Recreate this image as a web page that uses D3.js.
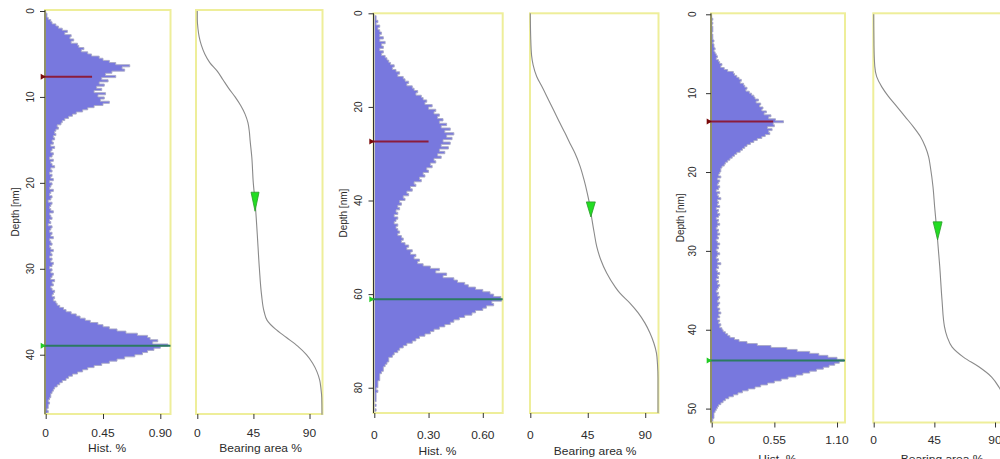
<!DOCTYPE html>
<html><head><meta charset="utf-8">
<script src="https://cdn.jsdelivr.net/npm/d3@7"></script>
<style>body{margin:0;background:#fff;} svg{display:block;font-family:"Liberation Sans",Arial,sans-serif;}</style>
</head><body><svg id="c" width="1000" height="459"></svg>
<script>
// ---------------- DATA ----------------
// Histogram 1 (bin width 0.25 nm, depth 0..47 nm), values in %
const hist1Bin = 0.25;
const hist1 = [
0.00,0.01,0.01,0.02, 0.04,0.05,0.08,0.10, 0.13,0.17,0.15,0.20, 0.19,0.22,0.20,0.25,
0.26,0.30,0.28,0.33, 0.36,0.42,0.45,0.50, 0.55,0.66,0.60,0.62, 0.52,0.47,0.55,0.44,
0.49,0.42,0.46,0.40, 0.44,0.38,0.47,0.41, 0.46,0.43,0.50,0.45, 0.38,0.33,0.29,0.24,
0.21,0.18,0.15,0.13, 0.12,0.09,0.10,0.08, 0.07,0.08,0.06,0.07,
0.05,0.06,0.04,0.07,0.05,0.04,0.06,0.05, 0.03,0.06,0.04,0.05,0.07,0.04,0.05,0.03,
0.05,0.04,0.06,0.03,0.05,0.04,0.03,0.06, 0.04,0.03,0.05,0.04,0.02,0.05,0.04,0.03,
0.04,0.06,0.03,0.04,0.05,0.03,0.04,0.02, 0.05,0.04,0.03,0.05,0.04,0.06,0.03,0.04,
0.05,0.03,0.04,0.06,0.04,0.05,0.03,0.05, 0.04,0.06,0.05,0.03,0.05,0.04,0.06,0.05,
0.04,0.07,0.05,0.06,0.04,0.05,0.07,0.06, 0.05,0.07,0.06,0.08,
0.09,0.11,0.14,0.16, 0.20,0.24,0.27,0.31, 0.35,0.41,0.45,0.50, 0.56,0.63,0.72,0.80,
0.82,0.88,0.84,0.96, 0.90,0.85,0.80,0.76, 0.70,0.62,0.56,0.50, 0.44,0.38,0.33,0.29,
0.25,0.21,0.18,0.16, 0.13,0.11,0.09,0.07, 0.06,0.05,0.04,0.04,
0.03,0.02,0.03,0.02,0.02,0.01,0.02,0.01
];
// Histogram 2 (bin width 0.5 nm, depth 0..85.5 nm)
const hist2Bin = 0.5;
const hist2 = [
0.00,0.01,0.01,0.02,0.01,0.03,0.02,0.03,0.04,0.03,0.05,0.03,0.06,0.04,0.05,0.03,0.05,0.04,0.06,
0.07,
0.08,0.09,0.11,0.10,0.12,0.14,0.13,0.16,
0.17,0.19,0.18,0.21,0.22,0.24,0.23,0.26,
0.27,0.29,0.28,0.32,0.30,0.34,0.33,0.36,
0.35,0.38,0.36,0.40,0.37,0.42,0.39,0.44,
0.40,0.43,0.38,0.42,0.37,0.41,0.36,0.39,
0.35,0.37,0.33,0.34,0.31,0.32,0.29,0.30,
0.27,0.28,0.25,0.26,0.22,0.23,0.20,0.21,
0.18,0.19,0.16,0.17,0.14,0.15,0.13,0.14,
0.12,0.13,0.11,0.13,0.12,0.11,0.13,0.12,
0.13,0.14,0.13,0.15,0.16,0.15,0.17,0.19,
0.18,0.21,0.20,0.23,0.22,0.25,0.24,0.27,
0.31,0.36,0.34,0.40,0.38,0.44,0.46,0.50,
0.52,0.56,0.60,0.64,0.66,0.70,0.71,0.65,
0.66,0.62,0.60,0.56,0.54,0.50,0.47,0.44,
0.42,0.39,0.36,0.33,0.31,0.28,0.25,0.23,
0.21,0.18,0.16,0.14,0.13,0.11,0.10,0.08,
0.08,0.07,0.06,0.05,0.05,0.04,0.03,0.03,
0.03,0.02,0.02,0.02,0.01,0.02,0.01,0.01,
0.01,0.01,0.00,0.01,0.00,0.01,0.00
];
// Histogram 3 (bin width 0.25 nm, depth 0..51.75 nm)
const hist3Bin = 0.25;
const hist3 = [
0.00,0.00,0.01,0.00,0.01,0.00,0.01,0.01,0.01,0.00,0.01,0.01,0.01,0.02,0.01,0.02,
0.02,0.03,0.02,0.03, 0.04,0.05,0.04,0.06, 0.07,0.09,0.08,0.11, 0.14,0.19,0.20,0.22,
0.24,0.26,0.25,0.28, 0.29,0.31,0.30,0.33, 0.35,0.37,0.38,0.41, 0.39,0.43,0.42,0.45,
0.44,0.48,0.46,0.52, 0.50,0.56,0.63,0.54, 0.55,0.49,0.53,0.50, 0.51,0.47,0.44,0.40,
0.37,0.34,0.31,0.29, 0.27,0.25,0.22,0.20, 0.18,0.16,0.14,0.12, 0.11,0.09,0.08,0.08,
0.07,0.06,0.08,0.05,0.07,0.06,0.05,0.07, 0.06,0.04,0.07,0.05,0.06,0.08,0.05,0.06,
0.05,0.07,0.04,0.06,0.05,0.07,0.06,0.04, 0.06,0.05,0.07,0.05,0.04,0.06,0.05,0.07,
0.05,0.06,0.04,0.05,0.07,0.05,0.06,0.04, 0.05,0.07,0.05,0.04,0.06,0.05,0.08,0.05,
0.06,0.04,0.05,0.07,0.05,0.06,0.04,0.06, 0.05,0.07,0.06,0.05,0.04,0.06,0.05,0.07,
0.06,0.05,0.07,0.06,0.05,0.07,0.06,0.08, 0.06,0.07,0.05,0.07,0.06,0.08,0.07,0.09,
0.10,0.12,0.14,0.16,
0.20,0.24,0.31,0.40, 0.52,0.66,0.75,0.86, 0.94,1.02,1.10,1.17, 1.12,1.08,1.03,0.98,
0.92,0.86,0.80,0.74, 0.67,0.61,0.55,0.49, 0.43,0.38,0.32,0.27, 0.23,0.19,0.15,0.12,
0.10,0.08,0.06,0.05, 0.04,0.03,0.02,0.02,
0.02,0.01,0.01
];

// Bearing area curves (depth nm, bearing area %)
const bearing1Depth = [0,1,2,3,4,5,6,7,8,9,10,11,12,13,14,15,17,20,22,26,30,33,35,36,37,38,39,40,41,42,43,44,45,47];
const bearing1      = [0,0,0.5,1.5,3.3,6,10,16,20.6,25.2,30.3,34.8,38.3,40.6,41.7,42.3,43.7,44.9,46.2,48.1,49.8,51.5,53.6,56,62.5,71.5,80.5,87.5,92.5,96,98.2,99.2,99.8,100];
const bearing2Depth = [0,5,9,11,13.5,15.7,18.5,20.7,23.5,25.6,27.8,29.9,32.7,35.5,38.4,41.3,44.1,47,49.8,52.6,55.5,58.4,59.8,61.9,64,66.2,68.3,70.5,72.6,75,78,85.4];
const bearing2      = [0,0.3,1,2.2,5,9.2,14.3,18.3,23.3,27.2,31.1,35,39,42,44.6,46.8,48.3,50.1,52,55.1,59.8,66.3,70.2,78,84.5,89.8,93.7,96.8,98.8,99.6,100,100];
const bearing3Depth = [0,4,6.6,7.9,9.2,10.4,11.7,13,14.3,15.5,16.8,18.1,19.3,21.9,24.4,27.8,32,36.3,39.6,40.9,42.2,43.5,44.7,46,47.3,48.5,49.8,51,51.7];
const bearing3      = [0,0.2,0.8,2.2,6,10.9,17.2,23.4,29.6,34.6,38.3,40.8,42,44,45.2,47,49,50.7,52.5,54.5,58.2,66.8,78,87.5,93,96.5,98.5,99.5,100];

// Ticks
const depthTicks1 = [0,10,20,30,40];
const depthTicks2 = [0,20,40,60,80];
const depthTicks3 = [0,10,20,30,40,50];
const histTicks1 = [0,0.45,0.90], histTickLabels1 = ["0","0.45","0.90"];
const histTicks2 = [0,0.30,0.60], histTickLabels2 = ["0","0.30","0.60"];
const histTicks3 = [0,0.55,1.10], histTickLabels3 = ["0","0.55","1.10"];
const bearingTicks = [0,45,90], bearingTickLabels = ["0","45","90"];

// Markers: red (upper mode) depth & line length, green (lower peak) depth, bearing triangle
const redDepth = [7.64, 27.4, 13.6];
const redValue = [0.364, 0.30, 0.54];
const greenDepth = [38.95, 61.1, 43.9];
const bearMarkPct = [46.3, 47.4, 47.4];
const bearMarkDepth = [23.3, 43.5, 28.6];

// --------------- LAYOUT ---------------
const layouts = [
  {dMax:46.9, y0:11, y1:414, boxT:10, boxB:414, hMax:0.98, hx0:45.7, hx1:170.5, hboxL:45, bx0:197.3, bx1:322, bboxL:196, bboxR:322.5,
   yTickLabX:29.5, yTitleX:15, xTickLabY:433, xTitleY:448, tri:[8,19]},
  {dMax:85.4, y0:13.3, y1:413, boxT:13.3, boxB:413, hMax:0.71, hx0:374.3, hx1:502.7, hboxL:373.5, bx0:530.3, bx1:658, bboxL:530, bboxR:658.5,
   yTickLabX:358, yTitleX:343, xTickLabY:435, xTitleY:451.5, tri:[9,15]},
  {dMax:51.7, y0:14.3, y1:422, boxT:13.3, boxB:422.5, hMax:1.17, hx0:711.7, hx1:845, hboxL:711, bx0:873.7, bx1:1008.5, bboxL:873.3, bboxR:1009,
   yTickLabX:692, yTitleX:680, xTickLabY:440, xTitleY:459, tri:[9,18]}
];
const sets = [
  {hist:hist1, bin:hist1Bin, bd:bearing1Depth, bp:bearing1, dt:depthTicks1, ht:histTicks1, hl:histTickLabels1},
  {hist:hist2, bin:hist2Bin, bd:bearing2Depth, bp:bearing2, dt:depthTicks2, ht:histTicks2, hl:histTickLabels2},
  {hist:hist3, bin:hist3Bin, bd:bearing3Depth, bp:bearing3, dt:depthTicks3, ht:histTicks3, hl:histTickLabels3}
];

const svg = d3.select("#c");
const BOX = "#eeee9a", TXT = "#2b2b2b", BLUE = "#7878de";

function hText(g, x, y, s, size) {
  g.append("text").attr("transform", `translate(${x},${y}) scale(1,0.9)`)
    .attr("text-anchor","middle").attr("dominant-baseline","central")
    .attr("font-size", size).attr("fill", TXT).text(s);
}
function vText(g, x, y, s, size) {
  g.append("text").attr("transform", `translate(${x},${y}) scale(1,0.87) rotate(-90)`)
    .attr("text-anchor","middle").attr("dominant-baseline","central")
    .attr("font-size", size).attr("fill", TXT).text(s);
}

sets.forEach((s, k) => {
  const L = layouts[k];
  const g = svg.append("g");
  const y = d3.scaleLinear().domain([0, L.dMax]).range([L.y0, L.y1]);
  const xh = d3.scaleLinear().domain([0, L.hMax]).range([L.hx0, L.hx1]);
  const xb = d3.scaleLinear().domain([0, 100]).range([L.bx0, L.bx1]);

  // histogram as a stepped area (one step per bin)
  const steps = [];
  s.hist.forEach((v, i) => { steps.push([v, i*s.bin]); steps.push([v, (i+1)*s.bin]); });
  g.append("path").datum(steps)
    .attr("d", d3.area().y(p => y(p[1])).x0(xh(0)).x1(p => xh(p[0])))
    .attr("fill", BLUE);
  g.append("path").datum(steps)
    .attr("d", d3.line().x(p => xh(p[0])).y(p => y(p[1])))
    .attr("fill", "none").attr("stroke", "#a9a9c6").attr("stroke-width", 0.9);

  // boxes
  g.append("rect").attr("x", L.hboxL).attr("y", L.boxT).attr("width", L.hx1 - L.hboxL).attr("height", L.boxB - L.boxT)
    .attr("fill","none").attr("stroke", BOX).attr("stroke-width", 2);
  g.append("rect").attr("x", L.bboxL).attr("y", L.boxT).attr("width", L.bboxR - L.bboxL).attr("height", L.boxB - L.boxT)
    .attr("fill","none").attr("stroke", BOX).attr("stroke-width", 2);

  // left depth axis
  const ay = g.append("g").attr("transform", `translate(${L.hboxL},0)`)
    .call(d3.axisLeft(y).tickValues(s.dt).tickSize(5).tickSizeOuter(0).tickFormat(""));
  ay.select(".domain").attr("stroke", "#333").attr("d", `M0,${L.boxT}V${L.boxB}`);
  ay.selectAll(".tick line").attr("stroke", "#333");
  s.dt.forEach(t => vText(g, L.yTickLabX, y(t), String(t), 11.5));
  vText(g, L.yTitleX, (L.boxT + L.boxB)/2, "Depth [nm]", 11.5);

  // bottom hist axis
  const ah = g.append("g").attr("transform", `translate(0,${L.boxB})`)
    .call(d3.axisBottom(xh).tickValues(s.ht).tickSize(5).tickSizeOuter(0).tickFormat(""));
  ah.select(".domain").remove();
  ah.selectAll(".tick line").attr("stroke", "#333");
  s.ht.forEach((t,i) => hText(g, xh(t), L.xTickLabY, s.hl[i], 12));
  hText(g, xh(0) + (L.hx1 - L.hx0)/2 - 1, L.xTitleY, "Hist. %", 12);

  // bottom bearing axis
  const ab = g.append("g").attr("transform", `translate(0,${L.boxB})`)
    .call(d3.axisBottom(xb).tickValues(bearingTicks).tickSize(5).tickSizeOuter(0).tickFormat(""));
  ab.select(".domain").remove();
  ab.selectAll(".tick line").attr("stroke", "#333");
  bearingTicks.forEach((t,i) => hText(g, xb(t), L.xTickLabY, bearingTickLabels[i], 12));
  hText(g, (L.bx0 + L.bx1)/2 + 1, L.xTitleY, "Bearing area %", 12);

  // red & green reference lines on histogram
  const yr = y(redDepth[k]), yg = y(greenDepth[k]);
  g.append("line").attr("x1", xh(0) - 3).attr("x2", xh(redValue[k])).attr("y1", yr).attr("y2", yr)
    .attr("stroke", "#8b1c3c").attr("stroke-width", 2);
  g.append("path").attr("d", `M${xh(0)-5},${yr-3}L${xh(0)},${yr}L${xh(0)-5},${yr+3}Z`).attr("fill", "#7a0a0a");
  g.append("line").attr("x1", xh(0) - 3).attr("x2", xh(L.hMax)).attr("y1", yg).attr("y2", yg)
    .attr("stroke", "#2b7a62").attr("stroke-width", 2);
  g.append("path").attr("d", `M${xh(0)-5},${yg-3}L${xh(0)},${yg}L${xh(0)-5},${yg+3}Z`).attr("fill", "#22cc22");

  // bearing curve
  const pts = s.bd.map((d,i) => [s.bp[i], d]);
  g.append("path").datum(pts)
    .attr("d", d3.line().x(p => xb(p[0])).y(p => y(p[1])).curve(d3.curveMonotoneY))
    .attr("fill","none").attr("stroke","#8a8a8a").attr("stroke-width",1.1);

  // bearing marker (green triangle pointing down)
  const mx = xb(bearMarkPct[k]), my = y(bearMarkDepth[k]);
  const [w,h] = L.tri;
  g.append("path").attr("d", `M${mx-w/2},${my-h}L${mx+w/2},${my-h}L${mx},${my}Z`)
    .attr("fill","#22dd22").attr("stroke","#2a9a2a").attr("stroke-width",0.8);
});
</script></body></html>
